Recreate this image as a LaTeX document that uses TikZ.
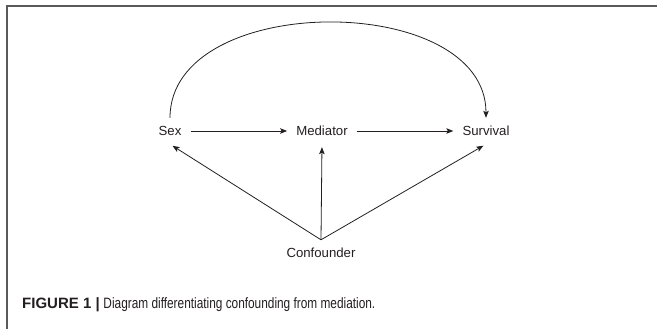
\documentclass[tikz,border=0pt]{standalone}
\usepackage{fontspec}
\setmainfont{Liberation Sans}
\usetikzlibrary{arrows.meta}
\definecolor{framegray}{HTML}{5A5A5A}
\definecolor{inkgray}{HTML}{231F20}
\begin{document}
\begin{tikzpicture}[x=1pt,y=-1pt,
  var/.style={font=\fontsize{13.2}{15}\selectfont, text=inkgray, inner xsep=9pt, inner ysep=0pt, minimum height=26pt},
  link/.style={draw=inkgray, line width=0.8pt, -{Stealth[length=7pt,width=5.5pt,inset=1.5pt]}}]
\useasboundingbox (0,0) rectangle (657,329);
\draw[framegray, line width=1.2pt] (657,6) -- (7,6) -- (7,329);
\node[var] (sex) at (170,131) {Sex};
\node[var] (med) at (322,131) {Mediator};
\node[var] (sur) at (486,131) {Survival};
\node[var] (con) at (321,253) {Confounder};
\draw[link] (sex) -- (med);
\draw[link] (med) -- (sur);
\draw[link] (sex.north) to[out=90,in=90,looseness=1.03] (sur.north);
\draw[link, shorten >=3pt] (con.north) -- (sex.south);
\draw[link, shorten >=3pt] (con.north) -- (med.south);
\draw[link, shorten >=3pt] (con.north) -- (sur.south);
\node[anchor=base west, inner sep=0pt, text=inkgray, font=\fontsize{15}{17}\selectfont] (cap) at (22,308) {\textbf{FIGURE 1 |}\hspace{0.25em}\scalebox{0.79}[1]{Diagram differentiating confounding from mediation.}};
\end{tikzpicture}
\end{document}
